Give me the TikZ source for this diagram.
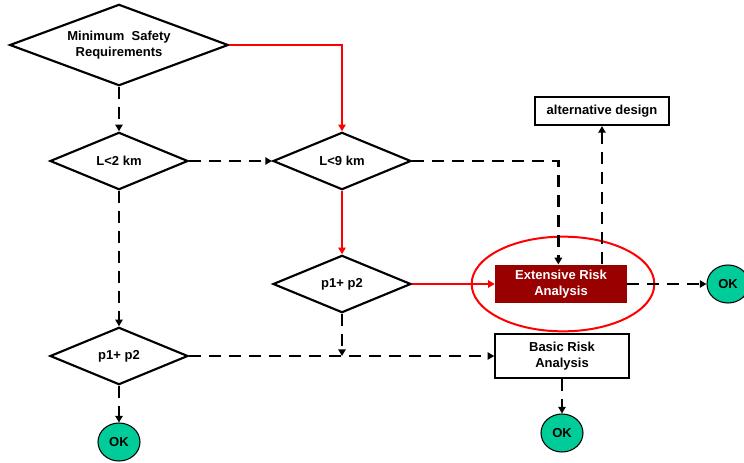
\documentclass[tikz,border=0pt]{standalone}
\usepackage{fontspec}
\setmainfont{Liberation Sans}
\usepackage{tikz}
\usetikzlibrary{shapes.geometric,arrows.meta}
\definecolor{darkred}{RGB}{153,0,0}
\definecolor{okgreen}{RGB}{0,204,153}

\begin{document}
\begin{tikzpicture}
[x=0.75pt, y=-0.75pt,
 font=\fontsize{9.75}{11.5}\selectfont\bfseries,
 bigdec/.style ={diamond, draw=black, line width=1.6pt, inner sep=0pt, aspect=2.7, align=center, minimum width=164pt, minimum height=61pt},
 dec/.style ={diamond, draw=black, line width=1.6pt, inner sep=0pt, aspect=2.4, align=center, minimum width=103.5pt, minimum height=43pt},
 box/.style ={rectangle, draw=black, line width=1.6pt, align=center, inner sep=0pt, minimum width=100pt},
 extbox/.style ={rectangle, fill=darkred, text=white, align=center, inner sep=0pt, minimum width=99pt, minimum height=29pt},
 ring/.style ={ellipse, draw=red, line width=1.5pt, minimum width=137pt, minimum height=71pt},
 ok/.style ={ellipse, draw=black, line width=0.8pt, fill=okgreen, inner sep=0pt, minimum width=31.5pt, minimum height=28.5pt},
 dline/.style ={draw, line width=2pt, dash pattern=on 9pt off 6pt, -{Triangle[length=5pt,width=5.5pt]}},
 redline/.style ={draw=red, line width=1.6pt, -{Triangle[length=5pt,width=5.5pt]}}]
\useasboundingbox (0,0) rectangle (744,462);
\draw (119,45) node[bigdec] (msr) {Minimum \ Safety\\Requirements};
\draw (119,161) node[dec] (l2) {L<2 km};
\draw (342,161) node[dec] (l9) {L<9 km};
\draw (342,284) node[dec] (pm) {p1+ p2};
\draw (119,356) node[dec] (pl) {p1+ p2};
\draw (602,111) node[box, minimum height=21pt] (alt) {alternative design};
\draw (563,284) node[ring] (ring) {};
\draw (561,284) node[extbox] (era) {Extensive Risk\\Analysis};
\draw (562,356) node[box, minimum height=33pt] (bra) {Basic Risk\\Analysis};
\draw (728,284) node[ok] (okr) {OK};
\draw (562,433) node[ok] (okb) {OK};
\draw (119,442) node[ok] (okl) {OK};
\draw[redline] (msr.east) -| (l9.north);
\draw[redline] (l9.south) -- (pm.north);
\draw[redline] (pm.east) -- (era.west);
\draw[dline] (msr.south) -- (l2.north);
\draw[dline] (l2.east) -- (l9.west);
\draw[dline] (l2.south) -- (pl.north);
\draw[dline] (l9.east) -| ([xshift=-2pt]era.north);
\draw[dline] (era.north -| alt.south) -- (alt.south);
\draw[dline] (era.east) -- (okr.west);
\draw[dline] (pl.east) -- (bra.west);
\draw[dline] (pm.south) -- (pm.south |- pl.east);
\draw[dline] (bra.south) -- (okb.north);
\draw[dline] (pl.south) -- (okl.north);
\end{tikzpicture}
\end{document}
